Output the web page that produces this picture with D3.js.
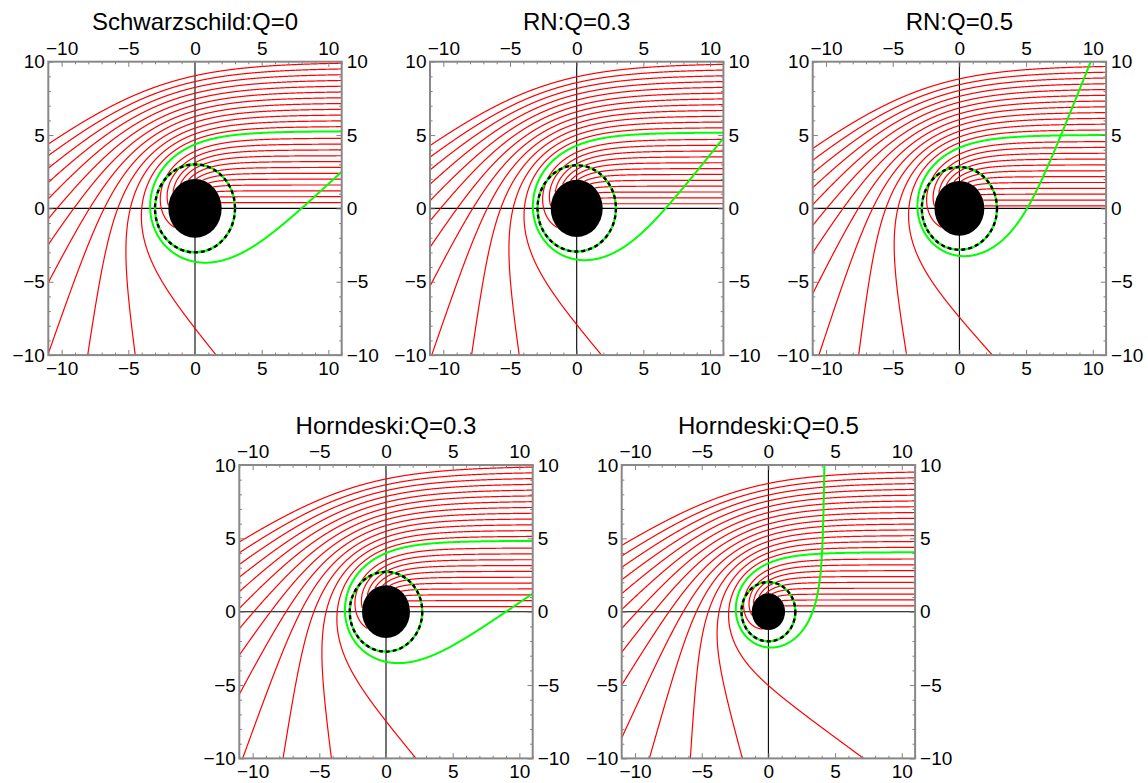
<!DOCTYPE html>
<html>
<head>
<meta charset="utf-8">
<script src="https://cdn.jsdelivr.net/npm/d3@7"></script>
<style>
  body { margin: 0; background: #fff; }
  svg { display: block; }
  text { font-family: "Liberation Sans", Arial, sans-serif; fill: #000; }
</style>
</head>
<body>
<svg id="fig" width="1148" height="783"></svg>
<script>
// Lapse function of each panel: f(r) = 1 - c1/r + c2/r^2
const panelTitles = ["Schwarzschild:Q=0", "RN:Q=0.3", "RN:Q=0.5", "Horndeski:Q=0.3", "Horndeski:Q=0.5"];
const massTerms = [2, 2, 2, 1.912, 1.878];
const chargeTerms = [0, 0.09, 0.25, 0.2285, 0.75];
const horizonRadii = [2.0, 1.95, 1.87, 1.8, 1.25];
const photonRadii = [3.0, 2.94, 2.82, 2.72, 2.02];
// critical impact parameter and the highlighted ray just above it
const criticalImpact = [5.196, 5.117, 4.968, 4.75, 4.0];
const highlightImpact = [5.273, 5.185, 5.022, 4.843, 4.06];
// ray family: offsets of the impact parameter from the critical value
const rayOffsets = [-4.8, -4.4, -4.0, -3.6, -3.2, -2.8, -2.4, -2.0, -1.6, -1.2, -0.8, -0.4,
                    0.4, 0.8, 1.2, 1.6, 2.0, 2.4, 2.8, 3.2, 3.6, 4.0, 4.4, 4.8, 5.2, 5.6];
const maxImpact = 10;
const xDomain = [-11, 11];
const yDomain = [-10, 10];
const majorTicks = [-10, -5, 0, 5, 10];
const xMinorTicks = [-11, -9, -8, -7, -6, -4, -3, -2, -1, 1, 2, 3, 4, 6, 7, 8, 9, 11];
const yMinorTicks = [-9, -8, -7, -6, -4, -3, -2, -1, 1, 2, 3, 4, 6, 7, 8, 9];

const panelOrigins = [[48.3, 61.7], [430, 61.7], [812.7, 61.7], [239.3, 465], [621.7, 465]];
const size = 293.4;

// Photon orbit u(phi), u = 1/r: u'' = -u + (3/2) c1 u^2 - 2 c2 u^3,
// arriving from x = +infinity with impact parameter b (u = 0, u' = 1/b at phi = 0).
function traceRay(b, c1, c2, rEnd) {
  const acc = u => -u + 1.5 * c1 * u * u - 2 * c2 * u * u * u;
  const h = 0.002;
  let phi = 0, u = 0, v = 1 / b;
  const pts = [];
  for (let step = 0; step < 60000; step++) {
    const k1u = v, k1v = acc(u);
    const k2u = v + 0.5 * h * k1v, k2v = acc(u + 0.5 * h * k1u);
    const k3u = v + 0.5 * h * k2v, k3v = acc(u + 0.5 * h * k2u);
    const k4u = v + h * k3v, k4v = acc(u + h * k3u);
    const un = u + h / 6 * (k1u + 2 * k2u + 2 * k3u + k4u);
    const vn = v + h / 6 * (k1v + 2 * k2v + 2 * k3v + k4v);
    if (un >= 1 / rEnd) {
      const t = (1 / rEnd - u) / (un - u);
      const p = phi + t * h;
      pts.push([Math.cos(p) * rEnd, Math.sin(p) * rEnd]);
      break;
    }
    if (un <= 0) break;
    u = un; v = vn; phi += h;
    if (u > 1 / 80) pts.push([Math.cos(phi) / u, Math.sin(phi) / u]);
  }
  return pts;
}

const fmt = d => d < 0 ? "\u2212" + (-d) : String(d);
const svg = d3.select("#fig");

panelTitles.forEach((title, i) => {
  const [ox, oy] = panelOrigins[i];
  const g = svg.append("g").attr("transform", `translate(${ox},${oy})`);
  const x = d3.scaleLinear().domain(xDomain).range([0, size]);
  const y = d3.scaleLinear().domain(yDomain).range([size, 0]);
  const line = d3.line().x(d => x(d[0])).y(d => y(d[1]));
  const trace = b => traceRay(b, massTerms[i], chargeTerms[i], horizonRadii[i]);

  const clipId = "clip" + i;
  g.append("clipPath").attr("id", clipId)
    .append("rect").attr("width", size).attr("height", size);
  const plot = g.append("g").attr("clip-path", `url(#${clipId})`);

  // coordinate axes through the origin
  plot.append("line").attr("x1", 0).attr("x2", size).attr("y1", y(0)).attr("y2", y(0))
    .attr("stroke", "#000").attr("stroke-width", 1.1);
  plot.append("line").attr("x1", x(0)).attr("x2", x(0)).attr("y1", 0).attr("y2", size)
    .attr("stroke", "#000").attr("stroke-width", 1.1);

  // incoming rays
  const impacts = rayOffsets.map(o => criticalImpact[i] + o).filter(b => b > 0 && b <= maxImpact);
  plot.selectAll("path.ray").data(impacts).join("path")
    .attr("class", "ray")
    .attr("d", b => line(trace(b)))
    .attr("fill", "none").attr("stroke", "#ff0000").attr("stroke-width", 1.2);

  // ray just above the critical impact parameter
  plot.append("path")
    .attr("d", line(trace(highlightImpact[i])))
    .attr("fill", "none").attr("stroke", "#00ff00").attr("stroke-width", 2);

  // event horizon
  const cx = x(0), cy = y(0);
  plot.append("ellipse").attr("cx", cx).attr("cy", cy)
    .attr("rx", x(horizonRadii[i]) - cx).attr("ry", cy - y(horizonRadii[i]))
    .attr("fill", "#000");

  // photon sphere
  plot.append("ellipse").attr("cx", cx).attr("cy", cy)
    .attr("rx", x(photonRadii[i]) - cx).attr("ry", cy - y(photonRadii[i]))
    .attr("fill", "none").attr("stroke", "#00ff00").attr("stroke-width", 2.2);
  plot.append("ellipse").attr("cx", cx).attr("cy", cy)
    .attr("rx", x(photonRadii[i]) - cx).attr("ry", cy - y(photonRadii[i]))
    .attr("fill", "none").attr("stroke", "#000").attr("stroke-width", 2.4)
    .attr("stroke-dasharray", "4,3");

  // frame ticks (inward), major with labels and minor without
  const styleAxis = sel => {
    sel.select(".domain").remove();
    sel.selectAll(".tick line").attr("stroke", "#808080").attr("stroke-width", 1);
    sel.selectAll(".tick text").attr("font-size", 19).attr("fill", "#000")
      .attr("font-family", "'Liberation Sans', Arial, sans-serif");
  };
  const axes = [
    [d3.axisBottom(x), `translate(0,${size})`, xMinorTicks, 6],
    [d3.axisTop(x), "translate(0,0)", xMinorTicks, 7.2],
    [d3.axisLeft(y), "translate(0,0)", yMinorTicks, 3.5],
    [d3.axisRight(y), `translate(${size},0)`, yMinorTicks, 5]
  ];
  axes.forEach(([ax, tr, minor, pad]) => {
    const gMinor = g.append("g").attr("transform", tr)
      .call(ax.tickValues(minor).tickSize(-2.6).tickFormat("").tickPadding(0));
    styleAxis(gMinor);
    const gMajor = g.append("g").attr("transform", tr)
      .call(ax.tickValues(majorTicks).tickSize(-5.2).tickFormat(fmt).tickPadding(pad));
    styleAxis(gMajor);
  });

  // frame
  g.append("rect").attr("width", size).attr("height", size)
    .attr("fill", "none").attr("stroke", "#888").attr("stroke-width", 2);

  // title
  g.append("text").attr("x", size / 2).attr("y", -31.5)
    .attr("text-anchor", "middle").attr("font-size", 24).text(title);
});
</script>
</body>
</html>
